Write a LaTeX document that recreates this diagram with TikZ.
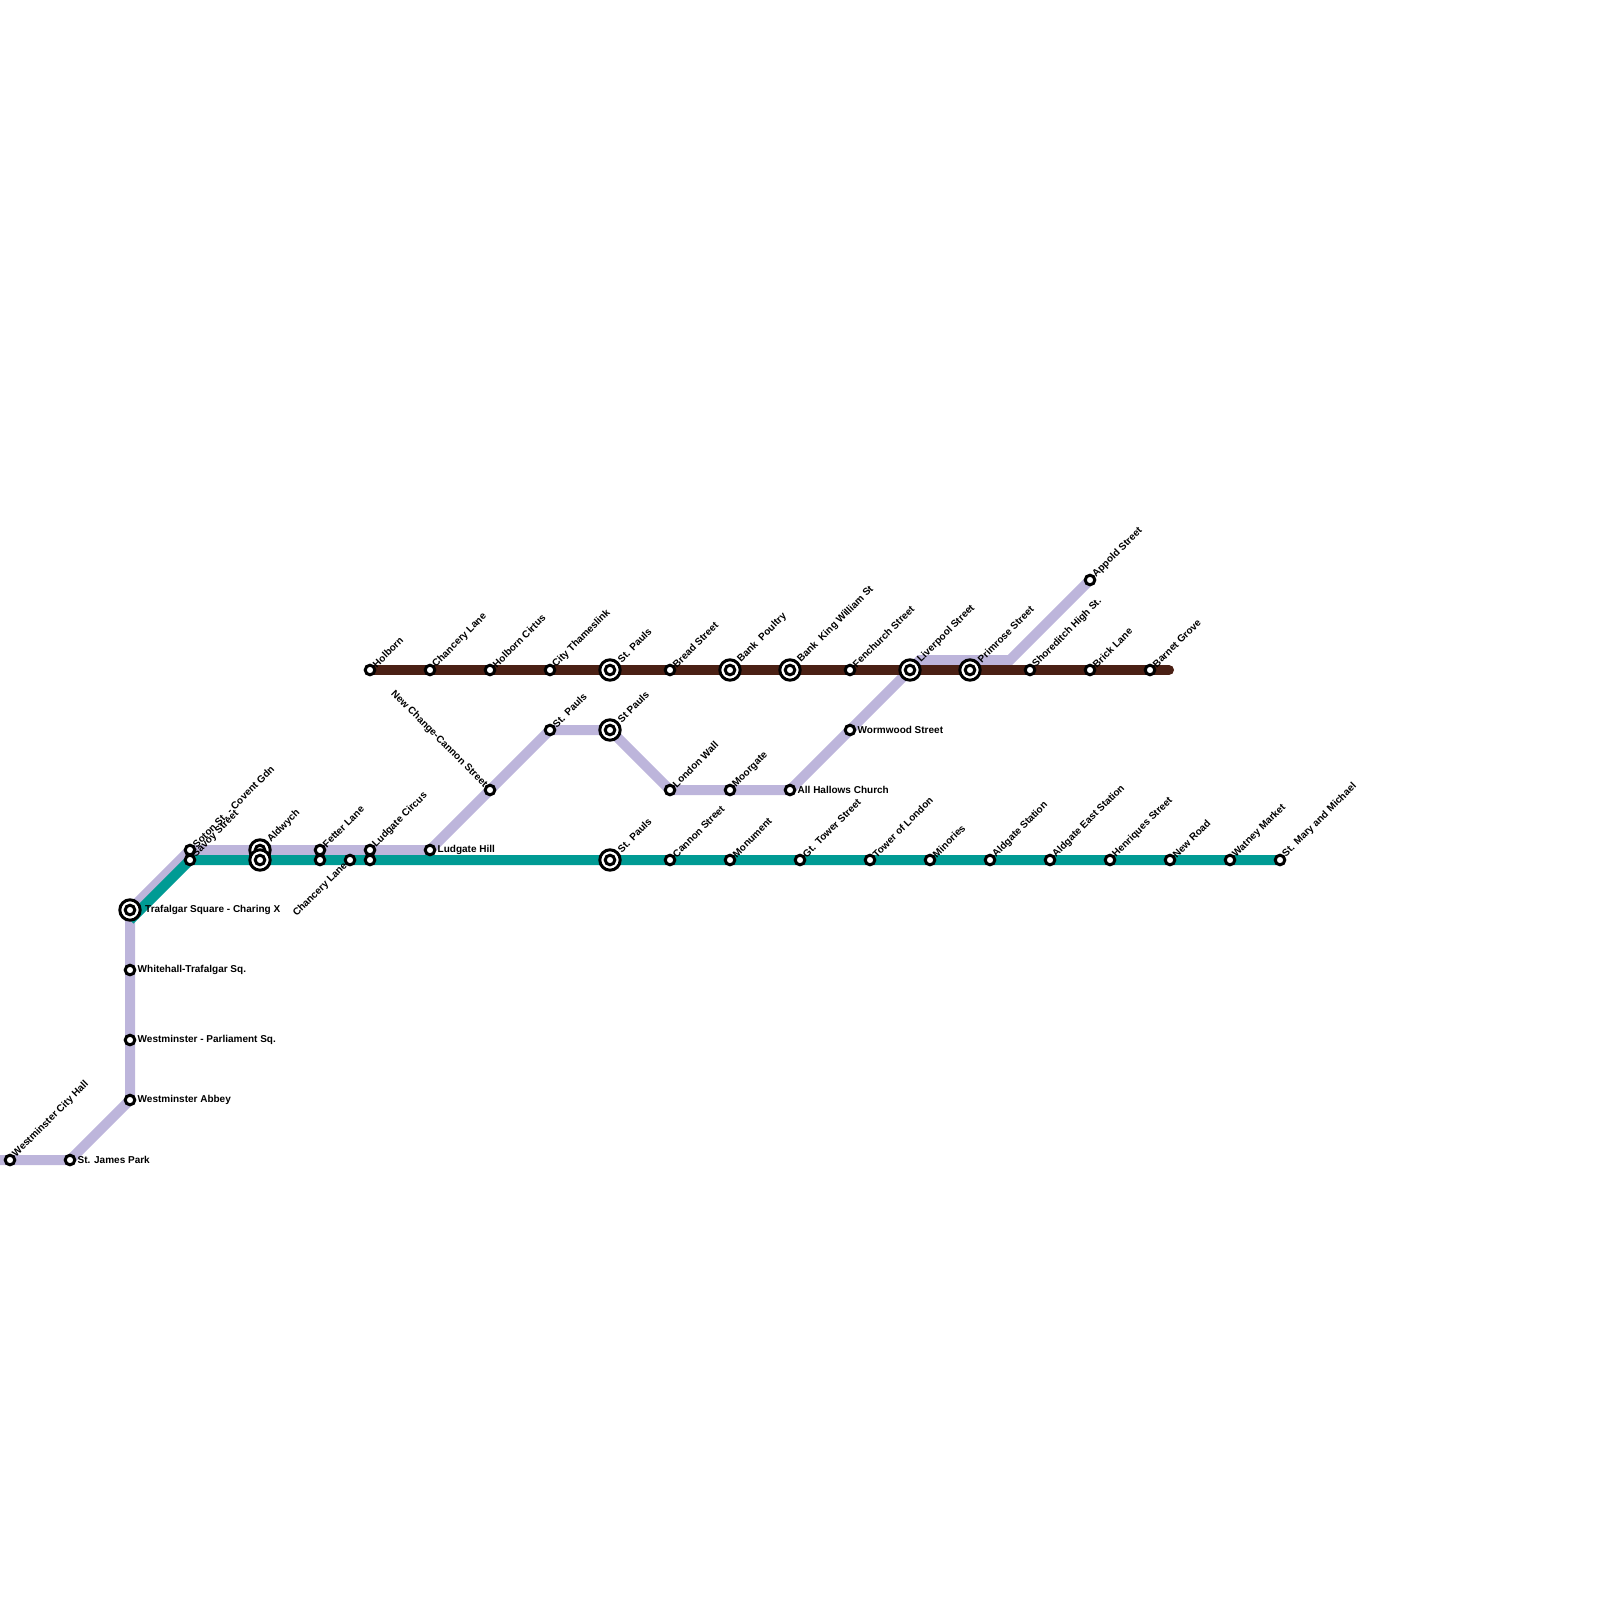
\documentclass[tikz,border=0pt]{standalone}
\usepackage{fontspec}
\setmainfont{Liberation Sans}
\usetikzlibrary{backgrounds}
\definecolor{lilac}{HTML}{BDB5DB}
\definecolor{teal}{HTML}{009B94}
\definecolor{umber}{HTML}{4A2014}
\tikzset{
  stn/.style={circle,draw=black,line width=3pt,fill=white,inner sep=0pt,minimum size=9.6pt},
  hub/.style={circle,draw=black,line width=3pt,fill=white,inner sep=0pt,minimum size=20.4pt,
    path picture={\draw[line width=3pt] (path picture bounding box.center) circle (4.8pt);}},
  lab/.style={font=\fontsize{10}{11}\selectfont\bfseries,inner sep=0pt},
  tilt/.style={lab,rotate=45,anchor=west,xshift=6pt},
  tilthub/.style={lab,rotate=45,anchor=west,xshift=13pt},
  rightlab/.style={lab,anchor=west,xshift=7.5pt,yshift=.4pt},
  righthub/.style={lab,anchor=west,xshift=15pt,yshift=.4pt},
  route/.style={line width=10pt,line cap=round}
}
\begin{document}
\begin{tikzpicture}[x=1pt,y=-1pt]
\useasboundingbox (0,0) rectangle (1600,1600);
\coordinate (lilacstart) at (0,1160);
\coordinate (lilacbendA) at (920,660);
\coordinate (lilacbendB) at (1010,660);
\coordinate (tealstart) at (130,920);
\coordinate (umberend) at (1169,670);
\node[stn] (cityhall) at (10,1160){};
\node[tilt] (cityhalltxt) at (cityhall){Westminster City Hall};
\node[stn] (james) at (70,1160){};
\node[rightlab] (jamestxt) at (james){St. James Park};
\node[stn] (abbey) at (130,1100){};
\node[rightlab] (abbeytxt) at (abbey){Westminster Abbey};
\node[stn] (parliament) at (130,1040){};
\node[rightlab] (parliamenttxt) at (parliament){Westminster - Parliament Sq.};
\node[stn] (whitehall) at (130,970){};
\node[rightlab] (whitehalltxt) at (whitehall){Whitehall-Trafalgar Sq.};
\node[hub] (trafalgar) at (130,910){};
\node[righthub] (trafalgartxt) at (trafalgar){Trafalgar Square - Charing X};
\node[stn] (soton) at (190,850){};
\node[tilt] (sotontxt) at (soton){Soton St. - Covent Gdn};
\node[stn] (savoy) at (190,860){};
\node[tilt] (savoytxt) at (savoy){Savoy Street};
\node[hub] (aldwychA) at (260,850){};
\node[hub] (aldwychB) at (260,860){};
\node[tilthub] (aldwychtxt) at (aldwychA){Aldwych};
\node[stn] (fetterA) at (320,850){};
\node[stn] (fetterB) at (320,860){};
\node[tilt] (fettertxt) at (fetterA){Fetter Lane};
\node[stn] (chanceryS) at (350,860){};
\node[lab,rotate=45,anchor=east,xshift=-6pt] (chanceryStxt) at (chanceryS){Chancery Lane};
\node[stn] (circusA) at (370,850){};
\node[stn] (circusB) at (370,860){};
\node[tilt] (circustxt) at (circusA){Ludgate Circus};
\node[stn] (ludgate) at (430,850){};
\node[rightlab] (ludgatetxt) at (ludgate){Ludgate Hill};
\node[stn] (newchange) at (490,790){};
\node[lab,rotate=-45,anchor=east,xshift=-6pt] (newchangetxt) at (newchange){New Change-Cannon Street};
\node[stn] (paulsM) at (550,730){};
\node[tilt] (paulsMtxt) at (paulsM){St. Pauls};
\node[hub] (paulsH) at (610,730){};
\node[tilthub] (paulsHtxt) at (paulsH){St Pauls};
\node[stn] (wall) at (670,790){};
\node[tilt] (walltxt) at (wall){London Wall};
\node[stn] (moorgate) at (730,790){};
\node[tilt] (moorgatetxt) at (moorgate){Moorgate};
\node[stn] (hallows) at (790,790){};
\node[rightlab] (hallowstxt) at (hallows){All Hallows Church};
\node[stn] (wormwood) at (850,730){};
\node[rightlab] (wormwoodtxt) at (wormwood){Wormwood Street};
\node[stn] (appold) at (1090,580){};
\node[tilt] (appoldtxt) at (appold){Appold Street};
\node[stn] (holborn) at (370,670){};
\node[tilt] (holborntxt) at (holborn){Holborn};
\node[stn] (chanceryN) at (430,670){};
\node[tilt] (chanceryNtxt) at (chanceryN){Chancery Lane};
\node[stn] (circus) at (490,670){};
\node[tilt] (circusNtxt) at (circus){Holborn Cirtus};
\node[stn] (thameslink) at (550,670){};
\node[tilt] (thameslinktxt) at (thameslink){City Thameslink};
\node[hub] (paulsN) at (610,670){};
\node[tilthub] (paulsNtxt) at (paulsN){St. Pauls};
\node[stn] (bread) at (670,670){};
\node[tilt] (breadtxt) at (bread){Bread Street};
\node[hub] (poultry) at (730,670){};
\node[tilthub] (poultrytxt) at (poultry){Bank~~Poultry};
\node[hub] (kingwilliam) at (790,670){};
\node[tilthub] (kingwilliamtxt) at (kingwilliam){Bank~~King William St};
\node[stn] (fenchurch) at (850,670){};
\node[tilt] (fenchurchtxt) at (fenchurch){Fenchurch Street};
\node[hub] (liverpool) at (910,670){};
\node[tilthub] (liverpooltxt) at (liverpool){Liverpool Street};
\node[hub] (primrose) at (970,670){};
\node[tilthub] (primrosetxt) at (primrose){Primrose Street};
\node[stn] (shoreditch) at (1030,670){};
\node[tilt] (shoreditchtxt) at (shoreditch){Shoreditch High St.};
\node[stn] (brick) at (1090,670){};
\node[tilt] (bricktxt) at (brick){Brick Lane};
\node[stn] (barnet) at (1150,670){};
\node[tilt] (barnettxt) at (barnet){Barnet Grove};
\node[hub] (paulsS) at (610,860){};
\node[tilthub] (paulsStxt) at (paulsS){St. Pauls};
\node[stn] (cannon) at (670,860){};
\node[tilt] (cannontxt) at (cannon){Cannon Street};
\node[stn] (monument) at (730,860){};
\node[tilt] (monumenttxt) at (monument){Monument};
\node[stn] (tower) at (800,860){};
\node[tilt] (towertxt) at (tower){Gt. Tower Street};
\node[stn] (london) at (870,860){};
\node[tilt] (londontxt) at (london){Tower of London};
\node[stn] (minories) at (930,860){};
\node[tilt] (minoriestxt) at (minories){Minories};
\node[stn] (aldgate) at (990,860){};
\node[tilt] (aldgatetxt) at (aldgate){Aldgate Station};
\node[stn] (aldgateE) at (1050,860){};
\node[tilt] (aldgateEtxt) at (aldgateE){Aldgate East Station};
\node[stn] (henriques) at (1110,860){};
\node[tilt] (henriquestxt) at (henriques){Henriques Street};
\node[stn] (newroad) at (1170,860){};
\node[tilt] (newroadtxt) at (newroad){New Road};
\node[stn] (watney) at (1230,860){};
\node[tilt] (watneytxt) at (watney){Watney Market};
\node[stn] (michael) at (1280,860){};
\node[tilt] (michaeltxt) at (michael){St. Mary and Michael};
\begin{scope}[on background layer]
\draw[route,lilac,line cap=butt] (lilacstart)--(james.center)--(abbey.center)--(trafalgar.center)--(soton.center)--(ludgate.center)--(paulsM.center)--(paulsH.center)--(wall.center)--(hallows.center)--(liverpool.center)--(lilacbendA)--(lilacbendB)--(appold.center);
\draw[route,teal,line cap=butt] (tealstart)--(savoy.center)--(michael.center);
\draw[route,umber] (holborn.center)--(umberend);
\end{scope}
\end{tikzpicture}
\end{document}
